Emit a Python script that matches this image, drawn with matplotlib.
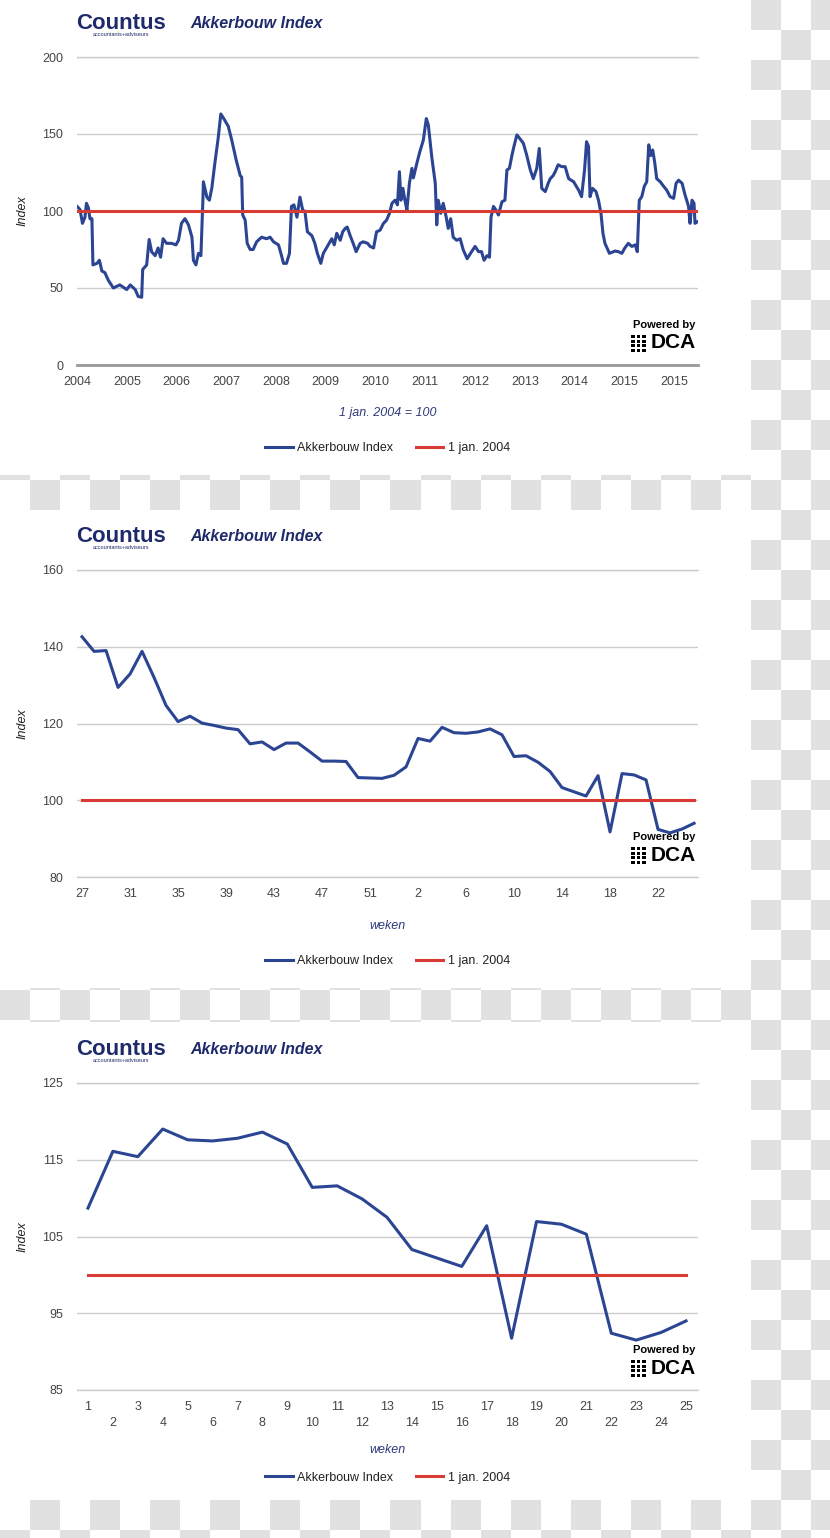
import numpy as np
import matplotlib
matplotlib.use("Agg")
import matplotlib.pyplot as plt
from matplotlib.patches import Rectangle

plt.rcParams['font.family'] = ['Liberation Sans', 'DejaVu Sans']

# --- data -------------------------------------------------------------
# chart 1: years since 1 jan 2004, index value
jaren = [0.00, 0.06, 0.11, 0.16, 0.19, 0.23, 0.26, 0.30, 0.32, 0.40, 0.45, 0.50,
         0.56, 0.63, 0.73, 0.86, 1.00, 1.07, 1.17, 1.23, 1.30, 1.32, 1.40, 1.45,
         1.50, 1.57, 1.63, 1.68, 1.73, 1.80, 1.90, 1.99, 2.04, 2.10, 2.17, 2.24,
         2.31, 2.34, 2.39, 2.44, 2.49, 2.53, 2.54, 2.61, 2.66, 2.71, 2.77, 2.84,
         2.89, 2.95, 3.04, 3.11, 3.20, 3.28, 3.31, 3.33, 3.38, 3.42, 3.48, 3.54,
         3.61, 3.71, 3.81, 3.88, 3.95, 4.05, 4.11, 4.15, 4.21, 4.27, 4.31, 4.36,
         4.42, 4.48, 4.54, 4.58, 4.63, 4.72, 4.78, 4.83, 4.90, 4.95, 5.03, 5.12,
         5.17, 5.22, 5.29, 5.34, 5.39, 5.43, 5.49, 5.55, 5.61, 5.69, 5.75, 5.84,
         5.89, 5.96, 6.02, 6.09, 6.16, 6.22, 6.28, 6.33, 6.39, 6.44, 6.48, 6.51,
         6.55, 6.59, 6.63, 6.68, 6.73, 6.76, 6.83, 6.89, 6.96, 7.02, 7.06, 7.13,
         7.20, 7.23, 7.26, 7.31, 7.36, 7.42, 7.46, 7.51, 7.56, 7.63, 7.70, 7.76,
         7.84, 7.93, 8.00, 8.07, 8.13, 8.18, 8.24, 8.29, 8.32, 8.37, 8.42, 8.47,
         8.54, 8.60, 8.64, 8.69, 8.74, 8.78, 8.84, 8.90, 8.97, 9.04, 9.11, 9.17,
         9.24, 9.29, 9.34, 9.41, 9.47, 9.51, 9.57, 9.61, 9.67, 9.74, 9.81, 9.88,
         9.98, 10.08, 10.14, 10.20, 10.24, 10.28, 10.31, 10.36, 10.43, 10.48, 10.53,
         10.57, 10.61, 10.70, 10.81, 10.88, 10.95, 11.01, 11.08, 11.15, 11.22, 11.26,
         11.30, 11.35, 11.40, 11.45, 11.49, 11.53, 11.57, 11.61, 11.65, 11.72, 11.79,
         11.85, 11.92, 11.99, 12.04, 12.09, 12.16, 12.22, 12.29, 12.32, 12.36, 12.40,
         12.42, 12.47]
index_lang = [103, 101, 92, 96, 105, 102, 95, 95, 65, 66, 68, 61,
              60, 55, 50, 52, 49, 52, 49, 44.5, 44, 62, 65, 81.5,
              73.5, 71, 76, 70, 82, 79, 79, 78, 81, 92, 95, 91,
              83, 68, 65, 72.5, 71, 107, 119, 109, 107, 115, 131, 148,
              163, 160, 155, 146, 133, 123, 122, 97.5, 94, 79, 75, 75,
              80, 83, 82, 83, 80, 78, 71, 66, 66, 72.5, 103, 104,
              96, 109, 100, 100, 86.5, 84, 79, 72.5, 66, 72.5, 77, 82,
              78, 85.5, 81, 86.5, 88.7, 89.6, 84, 79, 73.6, 79, 80, 79,
              77, 76, 86.5, 87.5, 92, 94, 98.5, 105, 107, 104, 125.5, 107,
              114.7, 107, 100.6, 118, 127.7, 121.5, 131, 138.5, 146, 160, 156, 135,
              118, 91, 107, 98.5, 105, 96, 88.7, 95, 83, 81, 82, 75,
              69, 73.6, 77, 73.6, 73.6, 68, 71, 70, 96, 103, 100.6, 97.4,
              106, 107, 126.6, 127.7, 136, 141.8, 149.4, 147, 144, 136, 126.6, 121,
              127.7, 140.6, 114.7, 112.6, 118, 121, 123, 125.5, 130, 128.8, 128.8, 121,
              119, 113.6, 109.3, 126.6, 145, 142, 109.3, 114.7, 112.6, 107, 98.5,
              85.5, 79, 72.5, 74, 73.6, 72.5, 76, 79, 77, 78, 73.6,
              107, 109.3, 116, 119, 143, 136, 139.6, 131.5, 121, 119, 116,
              113.6, 109.3, 108.2, 118, 120, 118, 110.4, 103, 92, 107, 105,
              92, 93]
jaar_labels = ['2004', '2005', '2006', '2007', '2008', '2009', '2010', '2011',
               '2012', '2013', '2014', '2015', '2015']

# chart 2 / 3: weekly values
weken_a = list(range(27, 54))
index_a = [142.6, 138.8, 139.0, 129.4, 132.9, 138.8, 132.0, 124.7, 120.5, 121.9,
           120.1, 119.5, 118.8, 118.4, 114.7, 115.2, 113.2, 114.9, 114.9, 112.6,
           110.2, 110.2, 110.1, 105.9, 105.8, 105.7, 106.5]
weken_b = list(range(1, 26))
index_b = [108.7, 116.1, 115.4, 119.0, 117.6, 117.45, 117.8, 118.6, 117.05, 111.4,
           111.6, 109.9, 107.5, 103.3, 102.2, 101.1, 106.4, 91.75, 106.95, 106.6,
           105.3, 92.4, 91.5, 92.5, 94.0]
basis = 100

BLAUW = '#2b4593'
ROOD = '#d83a34'
NAVY = '#1f2a6b'
W, H = 830, 1538

fig = plt.figure(figsize=(W / 100, H / 100), dpi=100)

# transparent-look checkerboard behind three white panels
yy, xx = np.mgrid[0:H, 0:W]
bg_img = np.where(((xx // 30) + (yy // 30)) % 2 == 1, 0.882, 1.0)
for top, bot in [(0, 475), (510, 988), (1022, 1500)]:
    bg_img[top:bot, :750] = 1.0
bg = fig.add_axes([0, 0, 1, 1], zorder=-10)
bg.imshow(bg_img, cmap='gray', vmin=0, vmax=1, extent=(0, W, H, 0),
          interpolation='nearest', aspect='auto')
bg.axis('off')


def px_box(left, top, right, bottom):
    return [left / W, 1 - bottom / H, (right - left) / W, (bottom - top) / H]


def dca_logo(right_px, base_px):
    # "Powered by" + DCA block logo, bottom right of each chart
    fig.text(right_px / W, 1 - (base_px - 40) / H, 'Powered by', ha='right', va='center',
             fontsize=8, fontweight='bold', color='black')
    fig.text((right_px + 1) / W, 1 - (base_px - 22) / H, 'DCA', ha='right', va='center',
             fontsize=15, fontweight='bold', color='black')
    for c in range(3):
        for r in range(4):
            x0 = 631 + c * 5.7
            y0 = base_px - 30 + r * 4.5
            fig.patches.append(Rectangle((x0 / W, 1 - (y0 + 3.2) / H), 3.7 / W, 3.2 / H,
                                         transform=fig.transFigure, color='black',
                                         lw=0, antialiased=False))


def opmaak(ax, ylim, yticks, xlabel, legend_y, xlabel_y, base_px):
    ax.set_facecolor('none')
    ax.set_ylim(*ylim)
    ax.set_yticks(yticks)
    for s in ax.spines.values():
        s.set_visible(False)
    ax.yaxis.grid(True, color='#cccccc', lw=1)
    ax.axhline(ylim[0], color='#cccccc', lw=1, clip_on=False, zorder=1)
    ax.axhline(ylim[1], color='#cccccc', lw=1, clip_on=False, zorder=1)
    ax.set_axisbelow(True)
    ax.tick_params(length=0, labelsize=9, labelcolor='#444444')
    ax.tick_params(axis='y', pad=10)
    ax.tick_params(axis='x', pad=8)
    ax.text(-0.087, 0.5, 'Index', transform=ax.transAxes, rotation=90, ha='center',
            va='center', fontsize=9, style='italic', color='#222222')
    ax.text(0.5, xlabel_y, xlabel, transform=ax.transAxes, ha='center', va='center',
            fontsize=9, style='italic', color='#2d3a7a')
    ax.legend(loc='center', bbox_to_anchor=(0.5, legend_y), ncol=2, frameon=False,
              fontsize=9, handlelength=2.2, handletextpad=0.35, columnspacing=1.8,
              labelcolor='#222222')
    # header: Countus logo + title
    ax.text(-0.002, 1.11, 'Countus', transform=ax.transAxes, ha='left', va='center',
            fontsize=16, fontweight='heavy', color=NAVY)
    ax.text(0.026, 1.072, 'accountants+adviseurs', transform=ax.transAxes, ha='left',
            va='center', fontsize=4, color=NAVY)
    ax.text(0.182, 1.11, 'Akkerbouw Index', transform=ax.transAxes, ha='left',
            va='center', fontsize=11.5, fontweight='bold', style='italic', color=NAVY)
    dca_logo(695, base_px)


# --- chart 1 ----------------------------------------------------------
ax1 = fig.add_axes(px_box(77, 57, 698, 365))
ax1.plot(jaren, index_lang, color=BLAUW, lw=2.2, label='Akkerbouw Index', zorder=3)
ax1.plot([jaren[0], jaren[-1]], [basis, basis], color=ROOD, lw=2.2, label='1 jan. 2004',
         zorder=4)
ax1.set_xlim(0, 12.48)
ax1.set_xticks(range(len(jaar_labels)))
ax1.set_xticklabels(jaar_labels)
opmaak(ax1, (0, 200), [0, 50, 100, 150, 200], '1 jan. 2004 = 100', -0.27, -0.156, 365)
ax1.axhline(0, color='#999999', lw=2, zorder=2, clip_on=False)

# --- chart 2 ----------------------------------------------------------
weken_ab = weken_a + weken_b
index_ab = index_a + index_b
pos2 = np.arange(len(weken_ab))
ax2 = fig.add_axes(px_box(77, 570, 698, 877))
ax2.plot(pos2, index_ab, color=BLAUW, lw=2.2, label='Akkerbouw Index', zorder=3)
ax2.plot(pos2, [basis] * len(pos2), color=ROOD, lw=2.2, label='1 jan. 2004', zorder=4)
ax2.set_xlim(-0.42, len(pos2) - 1 + 0.33)
ax2.set_xticks(pos2[::4])
ax2.set_xticklabels([str(w) for w in weken_ab[::4]])
opmaak(ax2, (80, 160), [80, 100, 120, 140, 160], 'weken', -0.274, -0.159, 877)

# --- chart 3 ----------------------------------------------------------
ax3 = fig.add_axes(px_box(77, 1083, 698, 1390))
ax3.plot(weken_b, index_b, color=BLAUW, lw=2.2, label='Akkerbouw Index', zorder=3)
ax3.plot(weken_b, [basis] * len(weken_b), color=ROOD, lw=2.2, label='1 jan. 2004', zorder=4)
ax3.set_xlim(0.56, 25.48)
ax3.set_xticks(weken_b)
ax3.set_xticklabels([str(w) if w % 2 else '\n' + str(w) for w in weken_b])
for t in ax3.get_xticklabels():
    t.set_linespacing(1.45)
opmaak(ax3, (85, 125), [85, 95, 105, 115, 125], 'weken', -0.286, -0.195, 1390)

fig.savefig('out.png', dpi=100)
